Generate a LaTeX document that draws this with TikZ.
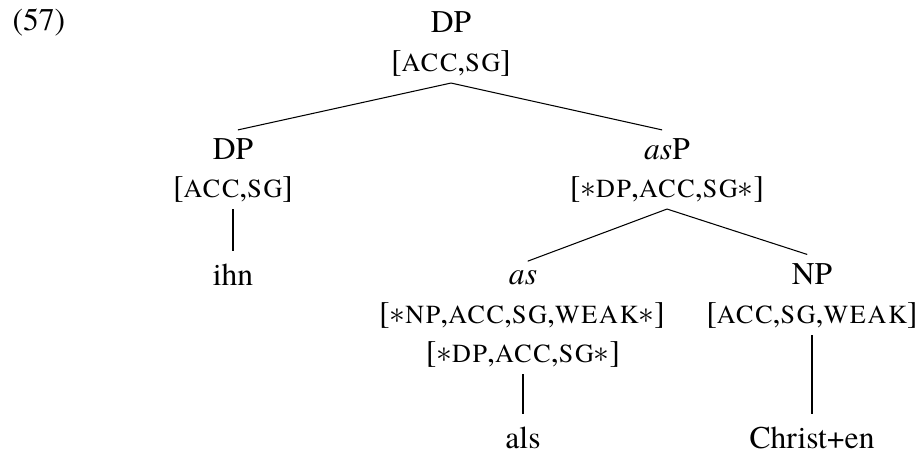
\documentclass[tikz,border=0pt]{standalone}
\usepackage{fontspec}
\setmainfont{texgyretermes}[Extension=.otf,UprightFont=*-regular,ItalicFont=*-italic,BoldFont=*-bold,BoldItalicFont=*-bolditalic]
\newcommand{\fsc}[1]{{\fontsize{9.9pt}{11pt}\selectfont\addfontfeature{LetterSpace=7}#1}}

\begin{document}
\begin{tikzpicture}[x=0.38pt,y=-0.38pt]
    % styles
    \tikzset{cat/.style={anchor=base,inner xsep=0pt,inner ysep=2.5pt,font=\rmfamily\fontsize{12pt}{14.5pt}\selectfont},
             branch/.style={shorten >=1.9pt}}
    \useasboundingbox (0,0) rectangle (917,452);
    % example number
    \node[cat,anchor=base west] (ex) at (12,31) {(57)};

    % nodes
    \node[cat] (DPtop)  at (451,32)  {DP};
    \node[cat] (DPtopf) at (451,71)  {[\fsc{ACC},\fsc{SG}]};

    \node[cat] (DPl)    at (233,159) {DP};
    \node[cat] (DPlf)   at (233,197) {[\fsc{ACC},\fsc{SG}]};
    \node[cat] (ihn)    at (233,285) {ihn};

    \node[cat] (asP)    at (667,159) {\textit{as}P};
    \node[cat] (asPf)   at (667,197) {[$\ast$\fsc{DP},\fsc{ACC},\fsc{SG}$\ast$]};

    \node[cat] (as)     at (523,284) {\textit{as}};
    \node[cat] (asf)    at (522,323) {[$\ast$\fsc{NP},\fsc{ACC},\fsc{SG},\fsc{WEAK}$\ast$]};
    \node[cat] (asg)    at (523,362) {[$\ast$\fsc{DP},\fsc{ACC},\fsc{SG}$\ast$]};
    \node[cat] (als)    at (523,448) {als};

    \node[cat] (NP)     at (812,284) {NP};
    \node[cat] (NPf)    at (812,323) {[\fsc{ACC},\fsc{SG},\fsc{WEAK}]};
    \node[cat] (christ) at (812,448) {Christ+en};

    % branches
    \draw[branch] (DPtopf.south) -- (DPl.north);
    \draw[branch] (DPtopf.south) -- (asP.north);
    \draw[branch] (DPlf.south) -- (ihn.north);
    \draw[branch] (asPf.south) -- (as.north);
    \draw[branch] (asPf.south) -- (NP.north);
    \draw[branch] (asg.south) -- (als.north);
    \draw[branch] (NPf.south) -- (christ.north);
\end{tikzpicture}
\end{document}
